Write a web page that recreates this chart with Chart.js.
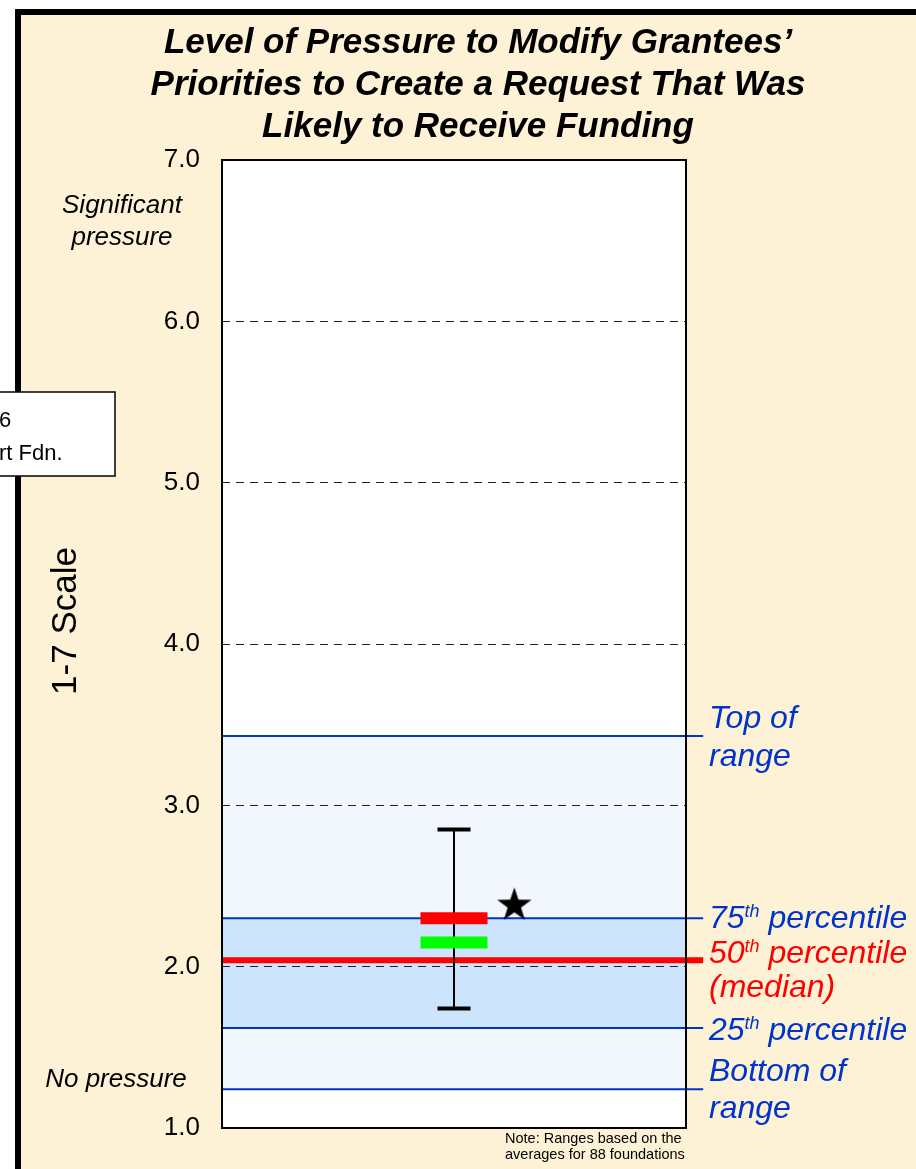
<!DOCTYPE html>
<html>
<head>
<meta charset="utf-8">
<script src="https://cdn.jsdelivr.net/npm/chart.js@4.4.1/dist/chart.umd.min.js"></script>
<style>
  html, body { margin: 0; padding: 0; background: #fff; }
  canvas { display: block; }
</style>
</head>
<body>
<canvas id="chart" width="916" height="1169"></canvas>
<script>
(function() {

    'use strict';

    // chart data
    var titleLines = ['Level of Pressure to Modify Grantees\u2019', 'Priorities to Create a Request That Was', 'Likely to Receive Funding'];
    var yTicks = [1, 2, 3, 4, 5, 6, 7];
    var bandNames = ['Top of range', '75th percentile', '50th percentile (median)', '25th percentile', 'Bottom of range'];
    var bandValues = [3.43, 2.30, 2.04, 1.62, 1.24];
    var errorRange = [1.74, 2.85];
    var markerNames = ['Foundation', 'Prior', 'Star'];
    var markerValues = [2.30, 2.15, 2.38];
    var noteLines = ['Note: Ranges based on the', 'averages for 88 foundations'];

    var cream = '#FDF2D6',
        blue = '#0033CC',
        red = '#FF0000',
        green = '#00FF00',
        font = '"Liberation Sans", Arial, sans-serif';

    // filled five point star for the marker
    var star = document.createElement('canvas');
    star.width = 40;
    star.height = 40;
    (function() {
        var c = star.getContext('2d'), R = 18, r = 7;
        c.beginPath();
        for (var i = 0; i < 10; i++) {
            var ang = -Math.PI / 2 + i * Math.PI / 5,
                rad = i % 2 ? r : R;
            c.lineTo(20 + Math.cos(ang) * rad, 20 + Math.sin(ang) * rad);
        }
        c.closePath();
        c.fillStyle = '#000';
        c.fill();
    })();

    function hline(v, x1) {
        return [{x: 0, y: v}, {x: x1, y: v}];
    }

    var datasets = [
        {
            label: 'range fill',
            data: hline(bandValues[0], 1),
            fill: {value: bandValues[4]},
            backgroundColor: '#F2F7FE',
            borderColor: 'rgba(0,0,0,0)',
            pointRadius: 0,
            order: 20
        },
        {
            label: 'quartile fill',
            data: hline(bandValues[1], 1),
            fill: {value: bandValues[3]},
            backgroundColor: '#CCE4FC',
            borderColor: 'rgba(0,0,0,0)',
            pointRadius: 0,
            order: 19
        }
    ];

    bandValues.forEach(function(v, i) {
        datasets.push({
            label: bandNames[i],
            data: hline(v, 1.037),
            borderColor: i === 2 ? red : blue,
            borderWidth: i === 2 ? 6 : 2,
            pointRadius: 0,
            fill: false,
            clip: false,
            order: i === 2 ? 8 : 10
        });
    });

    datasets.push({
        label: 'range of responses',
        data: [{x: 0.5, y: errorRange[0]}, {x: 0.5, y: errorRange[1]}],
        borderColor: '#000',
        borderWidth: 2,
        pointStyle: 'line',
        pointRadius: 16.5,
        pointBorderWidth: 4,
        pointBorderColor: '#000',
        fill: false,
        order: 5
    });

    datasets.push({
        label: markerNames[0],
        data: [{x: 0.5, y: markerValues[0]}],
        showLine: false,
        pointStyle: 'line',
        pointRadius: 33.5,
        pointBorderWidth: 12,
        pointBorderColor: red,
        pointBackgroundColor: red,
        order: 3
    });

    datasets.push({
        label: markerNames[1],
        data: [{x: 0.5, y: markerValues[1]}],
        showLine: false,
        pointStyle: 'line',
        pointRadius: 33.5,
        pointBorderWidth: 12,
        pointBorderColor: green,
        pointBackgroundColor: green,
        order: 3
    });

    datasets.push({
        label: markerNames[2],
        data: [{x: 0.63, y: markerValues[2]}],
        showLine: false,
        pointStyle: star,
        order: 1
    });

    function supText(ctx, x, y, num, rest, color) {
        ctx.fillStyle = color;
        ctx.font = 'italic 32px ' + font;
        ctx.fillText(num, x, y);
        x += ctx.measureText(num).width;
        ctx.font = 'italic 18px ' + font;
        ctx.fillText('th', x, y - 11);
        x += ctx.measureText('th').width;
        ctx.font = 'italic 32px ' + font;
        ctx.fillText(rest, x, y);
    }

    var decor = {
        id: 'decor',
        beforeDraw: function(chart) {
            var ctx = chart.ctx, a = chart.chartArea;
            ctx.save();
            ctx.fillStyle = '#fff';
            ctx.fillRect(0, 0, chart.width, chart.height);
            ctx.fillStyle = cream;
            ctx.fillRect(15, 9, chart.width, chart.height);
            ctx.fillStyle = '#000';
            ctx.fillRect(15, 9, 6, chart.height);
            ctx.fillRect(15, 9, chart.width, 6);
            ctx.fillStyle = '#fff';
            ctx.fillRect(a.left, a.top, a.right - a.left, a.bottom - a.top);
            ctx.restore();
        },
        afterDraw: function(chart) {
            var ctx = chart.ctx, a = chart.chartArea, i;
            ctx.save();

            // plot frame
            ctx.strokeStyle = '#000';
            ctx.lineWidth = 2;
            ctx.strokeRect(a.left, a.top, a.right - a.left, a.bottom - a.top);

            // title
            ctx.fillStyle = '#000';
            ctx.textAlign = 'center';
            ctx.textBaseline = 'alphabetic';
            ctx.font = 'italic bold 35px ' + font;
            for (i = 0; i < titleLines.length; i++) {
                ctx.fillText(titleLines[i], 478, 53 + i * 42);
            }

            // scale ends
            ctx.font = 'italic 26px ' + font;
            ctx.fillText('Significant', 122, 213);
            ctx.fillText('pressure', 122, 245);
            ctx.fillText('No pressure', 116, 1087);

            // axis title
            ctx.save();
            ctx.translate(66, 621);
            ctx.rotate(-Math.PI / 2);
            ctx.textBaseline = 'middle';
            ctx.font = '35px ' + font;
            ctx.fillText('1-7 Scale', 0, 0);
            ctx.restore();

            // band labels
            ctx.textAlign = 'left';
            var lx = 709;
            ctx.fillStyle = blue;
            ctx.font = 'italic 32px ' + font;
            ctx.fillText('Top of', lx, 728);
            ctx.fillText('range', lx, 766);
            supText(ctx, lx, 928, '75', ' percentile', blue);
            supText(ctx, lx, 963, '50', ' percentile', red);
            ctx.fillStyle = red;
            ctx.font = 'italic 32px ' + font;
            ctx.fillText('(median)', lx, 997);
            supText(ctx, lx, 1040, '25', ' percentile', blue);
            ctx.fillStyle = blue;
            ctx.font = 'italic 32px ' + font;
            ctx.fillText('Bottom of', lx, 1081);
            ctx.fillText('range', lx, 1118);

            // note
            ctx.fillStyle = '#000';
            ctx.font = '14.5px ' + font;
            ctx.fillText(noteLines[0], 505, 1143);
            ctx.fillText(noteLines[1], 505, 1159);

            // cut-off callout box
            ctx.fillStyle = '#fff';
            ctx.fillRect(-2, 392, 117, 84);
            ctx.strokeStyle = '#000';
            ctx.lineWidth = 1.5;
            ctx.strokeRect(-2, 392, 117, 84);
            ctx.fillStyle = '#000';
            ctx.font = '22px ' + font;
            ctx.fillText('6', -1, 427);
            ctx.fillText('rt Fdn.', -1, 460);

            ctx.restore();
        }
    };

    var ctx = document.getElementById('chart').getContext('2d');
    new Chart(ctx, {
        type: 'line',
        data: {datasets: datasets},
        options: {
            responsive: false,
            animation: false,
            devicePixelRatio: 1,
            layout: {autoPadding: false, padding: {left: 0, top: 160, right: 230, bottom: 41}},
            plugins: {
                legend: {display: false},
                tooltip: {enabled: false},
                title: {display: false}
            },
            scales: {
                x: {type: 'linear', min: 0, max: 1, display: false},
                y: {
                    type: 'linear',
                    min: yTicks[0],
                    max: yTicks[yTicks.length - 1],
                    afterBuildTicks: function(scale) {
                        scale.ticks = yTicks.map(function(v) { return {value: v}; });
                    },
                    afterFit: function(scale) { scale.width = 222; },
                    ticks: {
                        callback: function(v) { return v.toFixed(1); },
                        color: '#000',
                        font: {family: font, size: 26},
                        padding: 0
                    },
                    grid: {
                        drawTicks: true,
                        tickLength: 22,
                        tickColor: 'rgba(0,0,0,0)',
                        lineWidth: 1,
                        z: 1,
                        color: function(c) {
                            var v = c.tick && c.tick.value;
                            return (v === yTicks[0] || v === yTicks[yTicks.length - 1]) ? 'rgba(0,0,0,0)' : '#222';
                        }
                    },
                    border: {display: false, dash: [8, 6]}
                }
            }
        },
        plugins: [decor]
    });
})();
</script>
</body>
</html>
